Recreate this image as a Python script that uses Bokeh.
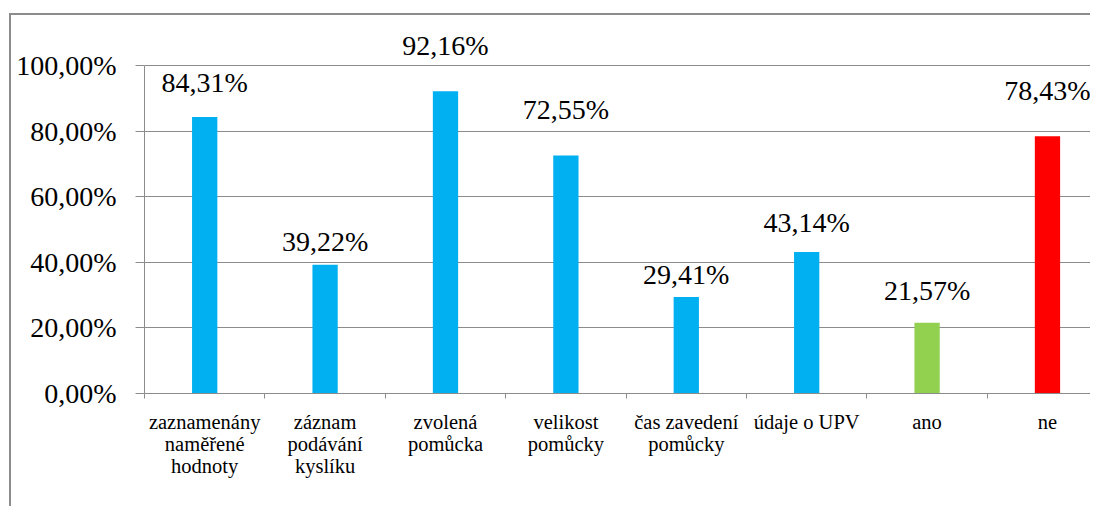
from bokeh.plotting import figure
from bokeh.models import Range1d, FixedTicker, ColumnDataSource
from bokeh.embed import file_html
from bokeh.resources import INLINE
from bokeh.core.properties import value

# ---- data ----
categories = ["zaznamenány\nnaměřené\nhodnoty", "záznam\npodávání\nkyslíku",
              "zvolená\npomůcka", "velikost\npomůcky", "čas zavedení\npomůcky",
              "údaje o UPV", "ano", "ne"]
values = [84.31, 39.22, 92.16, 72.55, 29.41, 43.14, 21.57, 78.43]
value_labels = ["84,31%", "39,22%", "92,16%", "72,55%", "29,41%", "43,14%", "21,57%", "78,43%"]
y_ticks = [0, 20, 40, 60, 80, 100]
y_tick_labels = ["0,00%", "20,00%", "40,00%", "60,00%", "80,00%", "100,00%"]

# ---- style ----
bar_colors = ["#00B0F0"] * 6 + ["#92D050", "#FF0000"]
label_lift_px = [34, 23, 46, 46, 23, 30, 32, 46]
FONT = "Liberation Serif"
GRAY = "#8c8c8c"

n = len(categories)
centers = [i + 0.5 for i in range(n)]
bounds = [float(i) for i in range(n)]

src = ColumnDataSource(dict(x=centers, top=values, color=bar_colors, lab=value_labels,
                            off=[-g for g in label_lift_px]))

p = figure(width=1081, height=493, output_backend="svg", toolbar_location=None,
           x_range=Range1d(0, 7.874), y_range=Range1d(0, 112.195),
           min_border_left=133, min_border_top=10, min_border_bottom=115,
           min_border_right=0, outline_line_color=None,
           margin=(13, 0, 0, 9),
           styles={"border-top": "2px solid #8c8c8c", "border-left": "2px solid #8c8c8c"})

p.vbar(x="x", top="top", width=0.21, bottom=0, fill_color="color", line_color=None, source=src)

p.text(x="x", y="top", text="lab", y_offset="off", source=src,
       text_align="center", text_baseline="alphabetic",
       text_font=value(FONT), text_font_size="28px", text_color="black")

# grid
p.xgrid.visible = False
p.ygrid.ticker = FixedTicker(ticks=y_ticks)
p.ygrid.grid_line_color = GRAY
p.ygrid.grid_line_width = 1

# y axis
ya = p.yaxis[0]
ya.ticker = FixedTicker(ticks=y_ticks)
ya.bounds = (0, 100)
ya.major_label_overrides = {t: l for t, l in zip(y_ticks, y_tick_labels)}
ya.major_tick_out = 9
ya.major_tick_in = 0
ya.minor_tick_out = 0
ya.minor_tick_in = 0
ya.axis_line_color = GRAY
ya.major_tick_line_color = GRAY
ya.major_label_text_font = FONT
ya.major_label_text_font_size = "28px"
ya.major_label_text_color = "black"
ya.major_label_standoff = 19

# x axis: labels at centers, minor ticks at category boundaries
xa = p.xaxis[0]
xa.ticker = FixedTicker(ticks=centers, minor_ticks=bounds)
xa.major_label_overrides = {c: l for c, l in zip(centers, categories)}
xa.major_tick_out = 0
xa.major_tick_in = 0
xa.minor_tick_out = 5
xa.minor_tick_in = 0
xa.minor_tick_line_color = GRAY
xa.axis_line_color = GRAY
xa.major_label_text_font = FONT
xa.major_label_text_font_size = "20.5px"
xa.major_label_text_color = "black"
xa.major_label_text_line_height = 1.0
xa.major_label_standoff = 12

open("out.html", "w").write(file_html(p, INLINE))
